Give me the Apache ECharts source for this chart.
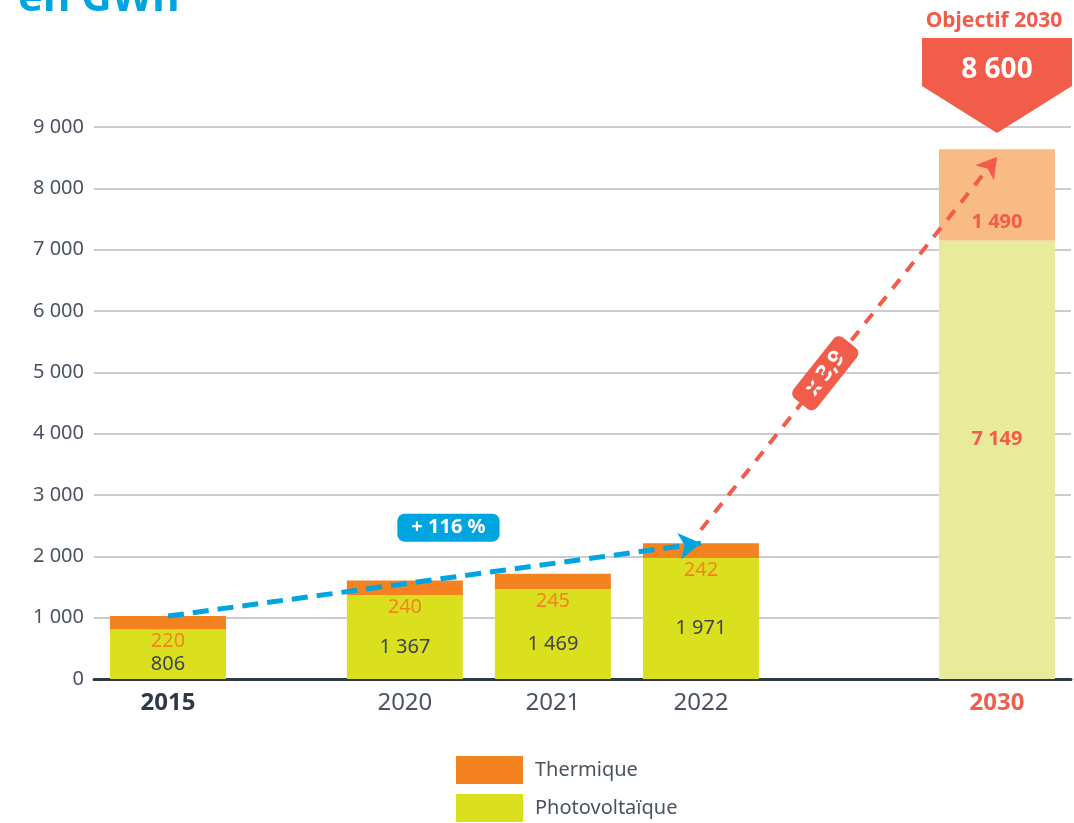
<!DOCTYPE html>
<html>
<head>
<meta charset="utf-8">
<script src="https://cdn.jsdelivr.net/npm/echarts@6/dist/echarts.min.js"></script>
<style>
html, body { margin: 0; padding: 0; background: #fff; }
#chart { width: 1074px; height: 823px; }
</style>
</head>
<body>
<div id="chart"></div>
<script>
//données
var years = ['2015', '2020', '2021', '2022', '2030'];
var thermique = [220, 240, 245, 242, 1490];
var photovoltaique = [806, 1367, 1469, 1971, 7149];
var seriesNames = ['Thermique', 'Photovoltaïque'];
var titleText = 'en GWh';
var growthText = '+ 116 %';
var factorText = 'x 3,9';
var objectiveTitle = 'Objectif 2030';
var objectiveText = '8 600';

//mise en page de l'axe x : fines colonnes, les années n'en occupent que quelques-unes
var slotCount = 33;
var slotIndex = [2, 10, 15, 20, 30];

var RED = '#f25c4b', BLUE = '#00a5e0', ORANGE = '#f58220', GREEN = '#dbe01e';
var GREY = '#4a5360', DARK = '#2e3848';
var FONT = 'Noto Sans';

function fmt(v){
	return String(v).replace(/\B(?=(\d{3})+(?!\d))/g, ' ');
}

var last = years.length - 1;
var totals = [];
var cats = [], pvData = [], thData = [];
for(var k = 0; k < slotCount; k++){
	cats.push('');
	pvData.push('-');
	thData.push('-');
}
for(var i = 0; i < years.length; i++){
	totals.push(thermique[i] + photovoltaique[i]);
	var s = slotIndex[i];
	cats[s] = years[i];
	var pv = {value: photovoltaique[i]};
	var th = {value: thermique[i]};
	if(i == last){
		pv.itemStyle = {color: '#e8eb99'};
		pv.label = {offset: [0, -20], color: RED, fontWeight: 'bold'};
		th.itemStyle = {color: '#f9bb84'};
		th.label = {position: 'insideBottom', distance: 8, color: RED, fontWeight: 'bold'};
	}
	pvData[s] = pv;
	thData[s] = th;
}

var option = {
	backgroundColor: '#fff',
	animation: false,
	textStyle: {fontFamily: FONT},
	grid: {left: 94, right: 3, top: 127, bottom: 144},
	legend: {
		orient: 'vertical',
		left: 456,
		top: 756,
		padding: 0,
		itemWidth: 67,
		itemHeight: 28,
		itemGap: 10,
		icon: 'rect',
		data: seriesNames,
		textStyle: {fontSize: 20, color: GREY, fontFamily: FONT, padding: [0, 0, 0, 7]}
	},
	xAxis: {
		type: 'category',
		data: cats,
		axisTick: {show: false},
		axisLine: {show: true, lineStyle: {color: DARK, width: 3}},
		axisLabel: {
			interval: 0,
			margin: 12,
			formatter: function(v){
				var idx = years.indexOf(v);
				if(idx < 0) return '';
				if(idx == 0) return '{b|' + v + '}';
				if(idx == last) return '{r|' + v + '}';
				return '{n|' + v + '}';
			},
			rich: {
				b: {fontSize: 24, fontWeight: 'bold', color: DARK, fontFamily: FONT},
				n: {fontSize: 24, color: GREY, fontFamily: FONT},
				r: {fontSize: 24, fontWeight: 'bold', color: RED, fontFamily: FONT}
			}
		}
	},
	yAxis: {
		type: 'value',
		min: 0,
		max: 9000,
		interval: 1000,
		axisLine: {show: false},
		axisTick: {show: false},
		splitLine: {lineStyle: {color: '#b9bbc2', width: 1.5}},
		axisLabel: {
			fontSize: 20,
			color: GREY,
			margin: 10,
			fontFamily: FONT,
			formatter: function(v){ return fmt(v); }
		}
	},
	series: [{
		name: seriesNames[1],
		type: 'bar',
		stack: 'total',
		barWidth: 116,
		itemStyle: {color: GREEN},
		label: {
			show: true,
			position: 'inside',
			offset: [0, 10],
			fontSize: 20,
			color: '#3d4450',
			fontFamily: FONT,
			formatter: function(p){ return fmt(p.value); }
		},
		data: pvData
	}, {
		name: seriesNames[0],
		type: 'bar',
		stack: 'total',
		barWidth: 116,
		itemStyle: {color: ORANGE},
		label: {
			show: true,
			position: 'bottom',
			distance: 2,
			fontSize: 20,
			color: ORANGE,
			fontFamily: FONT,
			formatter: function(p){ return fmt(p.value); }
		},
		markLine: {
			silent: true,
			symbol: ['none', 'arrow'],
			label: {show: false},
			data: [
				[{coord: [slotIndex[0], totals[0]], symbol: 'none',
					lineStyle: {color: BLUE, width: 5, type: [16, 9]}},
				 {coord: [slotIndex[3], totals[3]], symbol: 'arrow', symbolSize: [20, 22]}],
				[{coord: [slotIndex[3], totals[3] + 220], symbol: 'none',
					lineStyle: {color: RED, width: 4, type: [12, 10]}},
				 {coord: [slotIndex[last], totals[last] - 130], symbol: 'arrow', symbolSize: [18, 20]}]
			]
		},
		data: thData
	}]
};

var myChart = echarts.init(document.getElementById('chart'));
myChart.setOption(option, true);

//annotations
function px(x, y){
	return myChart.convertToPixel({gridIndex: 0}, [x, y]);
}
var b0 = px(slotIndex[0], totals[0]), b1 = px(slotIndex[3], totals[3]);
var r0 = px(slotIndex[3], totals[3] + 220), r1 = px(slotIndex[last], totals[last] - 130);
var rt = 0.42;
var rAngle = Math.atan2(r0[1] - r1[1], r1[0] - r0[0]);
var cx = px(slotIndex[last], 0)[0];
var topY = px(0, 9000)[1];

myChart.setOption({
	graphic: [{
		type: 'text',
		left: 18,
		top: -22,
		style: {text: titleText, fill: BLUE, font: 'bold 42px "' + FONT + '"'}
	}, {
		type: 'text',
		x: (b0[0] + b1[0]) / 2 + 14,
		y: (b0[1] + b1[1]) / 2 - 52,
		style: {
			text: growthText, fill: '#fff', font: 'bold 20px "' + FONT + '"',
			align: 'center', verticalAlign: 'middle',
			backgroundColor: BLUE, borderRadius: 7, padding: [4, 14, 4, 14]
		}
	}, {
		type: 'text',
		x: r0[0] + (r1[0] - r0[0]) * rt,
		y: r0[1] + (r1[1] - r0[1]) * rt,
		rotation: rAngle,
		style: {
			text: factorText, fill: '#fff', font: 'bold 22px "' + FONT + '"',
			align: 'center', verticalAlign: 'middle',
			backgroundColor: RED, borderRadius: 7, padding: [4, 14, 4, 14]
		}
	}, {
		type: 'polygon',
		shape: {points: [[cx - 75, 38], [cx + 75, 38], [cx + 75, 86], [cx, topY + 6], [cx - 75, 86]]},
		style: {fill: RED}
	}, {
		type: 'text',
		x: cx,
		y: 70,
		style: {
			text: objectiveText, fill: '#fff', font: 'bold 28px "' + FONT + '"',
			align: 'center', verticalAlign: 'middle'
		}
	}, {
		type: 'text',
		x: cx - 3,
		y: 21,
		style: {
			text: objectiveTitle, fill: RED, font: 'bold 21px "' + FONT + '"',
			align: 'center', verticalAlign: 'middle'
		}
	}]
});
</script>
</body>
</html>
